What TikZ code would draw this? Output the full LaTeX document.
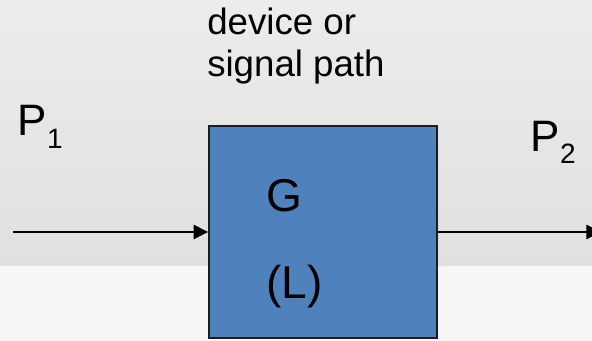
\documentclass[tikz,border=0pt]{standalone}
\usepackage{fontspec}
\setmainfont{Liberation Sans}
\usetikzlibrary{arrows.meta}

\definecolor{boxblue}{RGB}{79,129,189}
\definecolor{boxline}{RGB}{28,28,28}
\definecolor{bgtop}{RGB}{236,236,236}
\definecolor{bgmid}{RGB}{224,224,224}
\definecolor{bglow}{RGB}{246,246,246}

\begin{document}
\begin{tikzpicture}[x=0.75pt,y=0.75pt,yscale=-1,xscale=1,
  lbl/.style={inner sep=0pt,anchor=base west},
  flow/.style={line width=1.9pt,-{Triangle[length=11pt,width=10.5pt]}}]

\useasboundingbox (0,0) rectangle (592,341);
\clip (0,0) rectangle (592,341);

%Shape: Background bands
\shade [top color=bgtop,bottom color=bgmid] (0,0) rectangle (592,266);
\fill [bglow] (0,266) rectangle (592,341);

%Shape: Rectangle
\node [draw=boxline,line width=1.1pt,fill=boxblue,inner sep=0pt,minimum width=171pt,minimum height=159pt] (box) at (323,232) {};

% Text Node
\node [lbl,align=left,font=\fontsize{27.5}{31.5}\selectfont] (path) at (207,77) {device or\\signal path};
% Text Node
\node [lbl,font=\fontsize{33}{33}\selectfont] (p1) at (17.4,136) {P\raisebox{-9.75pt}{\fontsize{21}{21}\selectfont 1}};
% Text Node
\node [lbl,font=\fontsize{33}{33}\selectfont] (p2) at (530.6,152) {P\raisebox{-9pt}{\fontsize{21}{21}\selectfont 2}};
% Text Node
\node [lbl,font=\fontsize{34.5}{34.5}\selectfont] (gain) at (266,212) {G};
% Text Node
\node [lbl,font=\fontsize{34.5}{34.5}\selectfont] (loss) at (266,299) {(L)};

% Arrows in and out
\coordinate (in) at (13,232);
\coordinate (out) at (601,232);
\draw [flow] (in) -- (box.west);
\draw [flow] (box.east) -- (out);

\end{tikzpicture}
\end{document}
